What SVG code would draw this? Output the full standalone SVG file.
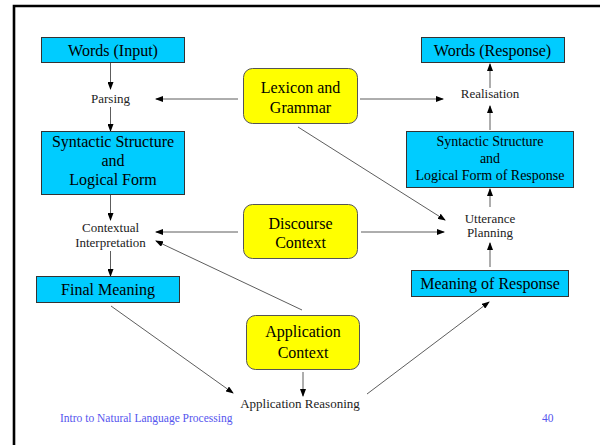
<svg xmlns="http://www.w3.org/2000/svg" width="600" height="445" viewBox="0 0 600 445" font-family="'Liberation Serif', 'Times New Roman', 'DejaVu Serif', serif">
<defs>
<marker id="ah" markerWidth="8" markerHeight="6" refX="7" refY="3" orient="auto" markerUnits="userSpaceOnUse">
<path d="M0,0 L8,3 L0,6 Z" fill="#000"/>
</marker>
<style>
.box{fill:#00ccff;stroke:#333;stroke-width:1}
.yel{fill:#ffff00;stroke:#555;stroke-width:1}
.t{fill:#000;text-anchor:middle}
.b16{font-size:16px}
.b14{font-size:14px}
.s13{font-size:13px;fill:#222}
.foot{font-size:11.5px;fill:#5555ee}
.c{stroke:#333;stroke-width:0.8;fill:none;marker-end:url(#ah)}
</style>
</defs>
<rect x="0" y="0" width="600" height="445" fill="#fff"/>
<path d="M14,450 L14,6 L605,6" fill="none" stroke="#000" stroke-width="2.6"/>

<g id="connectors">
<line class="c" x1="110.5" y1="63" x2="110.5" y2="89"/>
<line class="c" x1="110.5" y1="107" x2="110.5" y2="131"/>
<line class="c" x1="110.5" y1="195" x2="110.5" y2="220"/>
<line class="c" x1="110.5" y1="251" x2="110.5" y2="276"/>
<line class="c" x1="238" y1="99" x2="156" y2="99"/>
<line class="c" x1="360" y1="99" x2="443" y2="99"/>
<line class="c" x1="298" y1="127" x2="445" y2="220"/>
<line class="c" x1="238" y1="232" x2="156" y2="232"/>
<line class="c" x1="361" y1="232" x2="444" y2="232"/>
<line class="c" x1="302" y1="310" x2="156" y2="241"/>
<line class="c" x1="303" y1="372" x2="303" y2="396"/>
<line class="c" x1="111" y1="306" x2="233" y2="393"/>
<line class="c" x1="367" y1="394" x2="489" y2="302"/>
<line class="c" x1="490" y1="267" x2="490" y2="243"/>
<line class="c" x1="490" y1="207" x2="490" y2="189"/>
<line class="c" x1="490" y1="130" x2="490" y2="106"/>
<line class="c" x1="490" y1="88" x2="490" y2="64"/>
</g>

<g id="words-input">
<rect class="box" x="41.5" y="37.5" width="143" height="25"/>
<text class="t b16" x="113" y="56">Words (Input)</text>
</g>
<g id="parsing">
<text class="t s13" x="110.5" y="103">Parsing</text>
</g>
<g id="syntactic-structure">
<rect class="box" x="41.5" y="131.5" width="143" height="63"/>
<text class="t b16" x="113" y="147">Syntactic Structure</text>
<text class="t b16" x="113" y="166">and</text>
<text class="t b16" x="113" y="185">Logical Form</text>
</g>
<g id="contextual-interpretation">
<text class="t s13" x="110.5" y="232">Contextual</text>
<text class="t s13" x="110.5" y="247">Interpretation</text>
</g>
<g id="final-meaning">
<rect class="box" x="36.5" y="276.5" width="143" height="26"/>
<text class="t b16" x="108" y="295">Final Meaning</text>
</g>
<g id="lexicon-grammar">
<rect class="yel" x="243.5" y="68.5" width="114" height="55" rx="9"/>
<text class="t b16" x="300.5" y="93">Lexicon and</text>
<text class="t b16" x="300.5" y="113">Grammar</text>
</g>
<g id="discourse-context">
<rect class="yel" x="243.5" y="204.5" width="114" height="54" rx="9"/>
<text class="t b16" x="300.5" y="229">Discourse</text>
<text class="t b16" x="300.5" y="248">Context</text>
</g>
<g id="application-context">
<rect class="yel" x="246.5" y="315.5" width="113" height="54" rx="9"/>
<text class="t b16" x="303" y="337">Application</text>
<text class="t b16" x="303" y="358">Context</text>
</g>
<g id="application-reasoning">
<text class="t s13" x="300" y="408">Application Reasoning</text>
</g>
<g id="words-response">
<rect class="box" x="421.5" y="37.5" width="143" height="25"/>
<text class="t b16" x="492.5" y="56">Words (Response)</text>
</g>
<g id="realisation">
<text class="t s13" x="490" y="98">Realisation</text>
</g>
<g id="syntactic-structure-response">
<rect class="box" x="406.5" y="131.5" width="167" height="56"/>
<text class="t b14" x="490" y="146">Syntactic Structure</text>
<text class="t b14" x="490" y="163">and</text>
<text class="t b14" x="490" y="180">Logical Form of Response</text>
</g>
<g id="utterance-planning">
<text class="t s13" x="490" y="223">Utterance</text>
<text class="t s13" x="490" y="237">Planning</text>
</g>
<g id="meaning-response">
<rect class="box" x="411.5" y="270.5" width="157" height="26"/>
<text class="t b16" x="490" y="289">Meaning of Response</text>
</g>

<text class="foot" x="60" y="422">Intro to Natural Language Processing</text>
<text class="foot" x="542" y="422">40</text>
</svg>
